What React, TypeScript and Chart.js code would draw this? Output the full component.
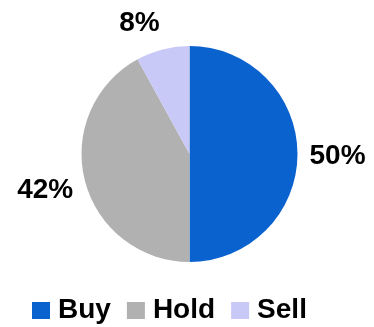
import { useEffect, useRef } from "react";
import { Chart, ArcElement, PieController } from "chart.js";

Chart.register(PieController, ArcElement);

const categories = ["Buy", "Hold", "Sell"];
const shares = [50, 42, 8];
const sliceColors = ["#0a62cf", "#b1b1b1", "#c9c9f8"];

const FONT = 'bold 28px "Liberation Sans", Arial, sans-serif';
const CAP_HALF = 10; // half of the cap height at 28px

// Percentage labels placed just outside each slice
const outsideLabels = {
  id: "outsideLabels",
  afterDatasetsDraw(chart: any) {
    const ctx = chart.ctx as CanvasRenderingContext2D;
    const meta = chart.getDatasetMeta(0);
    ctx.save();
    ctx.font = FONT;
    ctx.fillStyle = "#000";
    ctx.textAlign = "center";
    ctx.textBaseline = "alphabetic";
    meta.data.forEach((arc: any, i: number) => {
      const { x, y, startAngle, endAngle, outerRadius } = arc.getProps(
        ["x", "y", "startAngle", "endAngle", "outerRadius"],
        true
      );
      const mid = (startAngle + endAngle) / 2;
      const dx = Math.cos(mid);
      const dy = Math.sin(mid);
      const text = `${chart.data.datasets[0].data[i]}%`;
      const w = ctx.measureText(text).width;
      const h = 34;
      const r = outerRadius + 12;
      const side = Math.abs(dx) < 1e-6 ? 0 : Math.sign(dx);
      const cx = x + dx * r + (side * w) / 2;
      const cy = y + dy * r + (dy * h) / 2;
      ctx.fillText(text, cx, cy + CAP_HALF);
    });
    ctx.restore();
  },
};

// Legend row under the pie: square swatch followed by the category name
const bottomLegend = {
  id: "bottomLegend",
  afterDraw(chart: any) {
    const ctx = chart.ctx as CanvasRenderingContext2D;
    const labels: string[] = chart.data.labels;
    const colors: string[] = chart.data.datasets[0].backgroundColor;
    const boxW = 18;
    const boxH = 17;
    const baseline = 318;
    let x = 32;
    ctx.save();
    ctx.font = FONT;
    ctx.textAlign = "left";
    ctx.textBaseline = "alphabetic";
    labels.forEach((label, i) => {
      ctx.fillStyle = colors[i];
      ctx.fillRect(x, baseline - 16, boxW, boxH);
      x += boxW + 8;
      ctx.fillStyle = "#000";
      ctx.fillText(label, x, baseline);
      x += ctx.measureText(label).width + 16;
    });
    ctx.restore();
  },
};

export default function App() {
  const canvasRef = useRef<HTMLCanvasElement | null>(null);

  useEffect(() => {
    if (!canvasRef.current) return;
    const chart = new Chart(canvasRef.current, {
      type: "pie",
      data: {
        labels: categories,
        datasets: [
          {
            data: shares,
            backgroundColor: sliceColors,
            borderWidth: 0,
          },
        ],
      },
      options: {
        animation: false,
        responsive: true,
        maintainAspectRatio: false,
        layout: { padding: { top: 46, bottom: 65, left: 70, right: 65 } },
        plugins: {
          legend: { display: false },
          tooltip: { enabled: false },
        },
      },
      plugins: [outsideLabels, bottomLegend],
    });
    return () => chart.destroy();
  }, []);

  return (
    <div
      style={{
        position: "absolute",
        left: 0,
        top: 0,
        width: 374,
        height: 327,
        background: "#fff",
      }}
    >
      <canvas ref={canvasRef} />
    </div>
  );
}
